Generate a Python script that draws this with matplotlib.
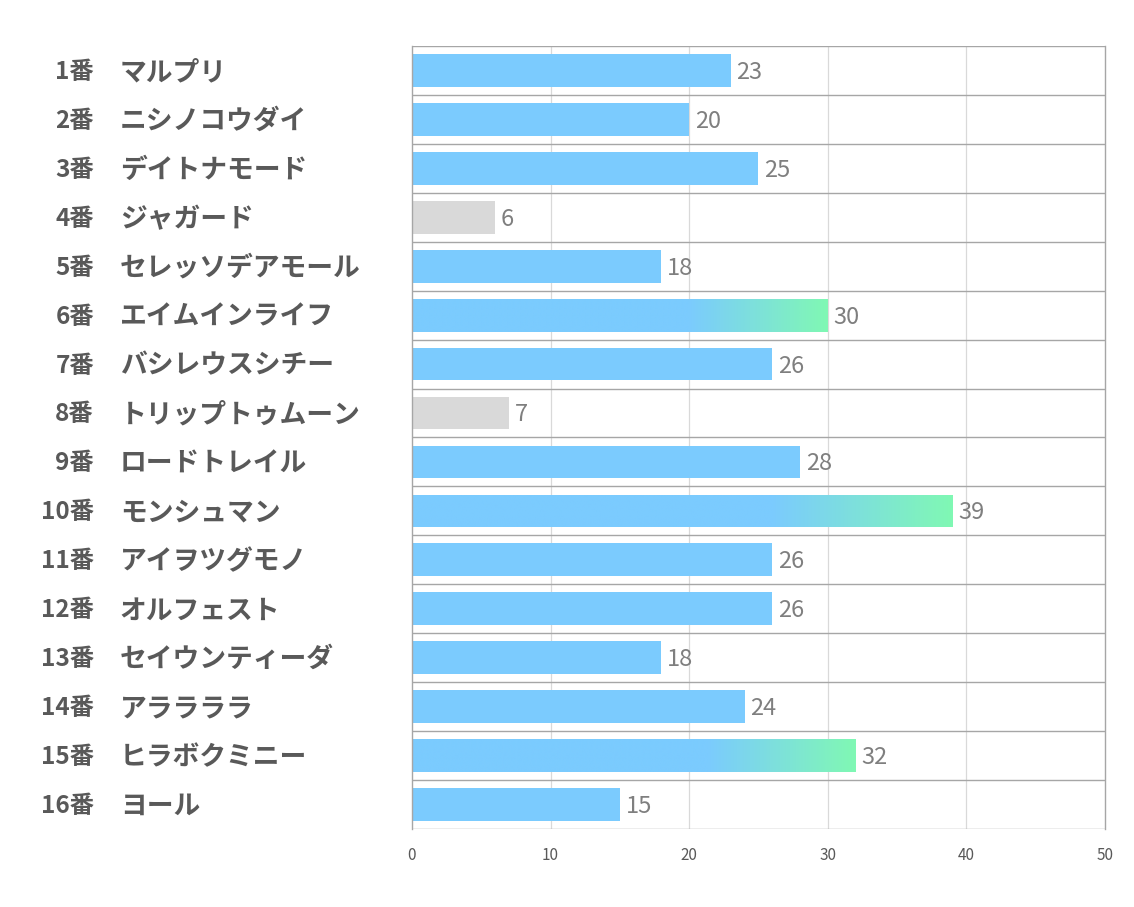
import matplotlib
matplotlib.use("Agg")
import matplotlib.pyplot as plt
import matplotlib.transforms as mtransforms
import numpy as np
from matplotlib.colors import LinearSegmentedColormap

plt.rcParams['font.family'] = ['Noto Sans CJK JP', 'DejaVu Sans']

numbers = ["1番", "2番", "3番", "4番", "5番", "6番", "7番", "8番",
           "9番", "10番", "11番", "12番", "13番", "14番", "15番", "16番"]
names = ["マルプリ", "ニシノコウダイ", "デイトナモード", "ジャガード", "セレッソデアモール",
         "エイムインライフ", "バシレウスシチー", "トリップトゥムーン", "ロードトレイル",
         "モンシュマン", "アイヲツグモノ", "オルフェスト", "セイウンティーダ", "アララララ",
         "ヒラボクミニー", "ヨール"]
values = [23, 20, 25, 6, 18, 30, 26, 7, 28, 39, 26, 26, 18, 24, 32, 15]
kind = ["blue", "blue", "blue", "gray", "blue", "grad", "blue", "gray",
        "blue", "grad", "blue", "blue", "blue", "blue", "grad", "blue"]
xticks = [0, 10, 20, 30, 40, 50]

BLUE = "#7BCBFE"
GREEN = "#80F8B4"
GRAY = "#D9D9D9"
cmap = LinearSegmentedColormap.from_list("g", [(0, BLUE), (2 / 3, BLUE), (1, GREEN)])

fig = plt.figure(figsize=(11.34, 9.07), dpi=100)
ax = fig.add_axes([0.3633, 0.0860, 0.6111, 0.8633])

n = len(values)
ys = np.arange(n)
h = 0.67
colors = [GRAY if k == "gray" else BLUE for k in kind]
bars = ax.barh(ys, values, height=h, color=colors, zorder=2)

grad = np.linspace(0, 1, 512).reshape(1, -1)
for bar, y, v, k in zip(bars, ys, values, kind):
    if k == "grad":
        bar.set_facecolor('none')
        im = ax.imshow(grad, cmap=cmap, aspect='auto',
                       extent=[0, v, y + h / 2, y - h / 2],
                       zorder=3, interpolation='bilinear')
        im.set_clip_path(bar)
    ax.text(v + 0.4, y + 0.04, str(v), va='center', ha='left', fontsize=17,
            color='#7F7F7F', zorder=4)

ax.set_xlim(0, 50)
ax.set_ylim(n - 0.5, -0.5)
ax.set_xticks(xticks)
ax.set_xticklabels([str(t) for t in xticks], fontsize=11, color='#595959')
ax.set_yticks([])
ax.tick_params(axis='x', length=0, pad=13)

for xv in xticks[1:-1]:
    ax.axvline(xv, color='#D9D9D9', lw=0.9, zorder=1)
for b in np.arange(-0.5, n, 1.0):
    ax.axhline(b, color='#A6A6A6', lw=1.0, zorder=1)

for s in ['top', 'bottom']:
    ax.spines[s].set_visible(False)
ax.spines['left'].set_color('#A6A6A6')
ax.spines['right'].set_color('#A6A6A6')
ax.spines['left'].set_linewidth(1.0)
ax.spines['right'].set_linewidth(1.0)
ax.spines['left'].set_zorder(5)

trans = mtransforms.blended_transform_factory(ax.transAxes, ax.transData)
for y, num, nm in zip(ys, numbers, names):
    ax.text(-0.459, y + 0.03, num, transform=trans, ha='right', va='center', fontsize=17.5,
            fontweight='bold', color='#595959')
    ax.text(-0.4215, y + 0.03, nm, transform=trans, ha='left', va='center', fontsize=19.3,
            fontweight='bold', color='#595959')

fig.savefig("out.png", dpi=100)
